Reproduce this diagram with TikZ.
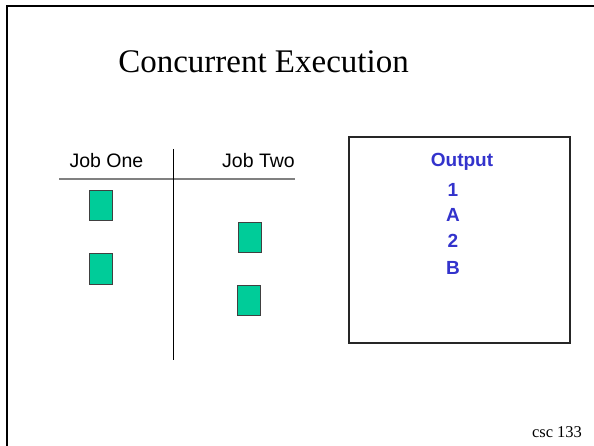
\documentclass[tikz,border=0pt]{standalone}
\usepackage{xcolor}
\usepackage{fontspec}
\setmainfont{Liberation Serif}
\newfontfamily\arialfont{Liberation Sans}
\usepackage{tikz}
\usetikzlibrary{calc}

\definecolor{jobgreen}{HTML}{00CC99}
\definecolor{outblue}{HTML}{3333CC}

\tikzset{
    jobbox/.style={draw=black!75, fill=jobgreen, line width=1pt,
        minimum width=23pt, minimum height=30pt, inner sep=0pt},
    joblabel/.style={anchor=base, inner sep=0pt, font=\arialfont\fontsize{19.5}{20}\selectfont},
    outline/.style={anchor=base, inner sep=0pt, text=outblue,
        font=\arialfont\bfseries\fontsize{19}{20}\selectfont}
}

\begin{document}
\begin{tikzpicture}[x=1pt, y=-1pt]
    %\draw[step=50pt,gray,very thin] (0,0) grid (594,446);
    \useasboundingbox (0,0) rectangle (594,446);
    \draw[black, line width=2.5pt] (7,446) -- (7,6) -- (594,6);

    \node[anchor=base, inner sep=0pt, font=\fontsize{33}{36}\selectfont] (title) at (263.5,73) {Concurrent Execution};

    % the two jobs
    \node[joblabel] (jobone) at (106.5,167.5) {Job One};
    \node[joblabel] (jobtwo) at (258.5,167.5) {Job Two};
    \draw[black!50, line width=1.5pt] (59,179) -- (295,179);
    \draw[black, line width=1pt] (173,149) -- (173,360);

    \node[jobbox] (a1) at (100.5,206) {};
    \node[jobbox] (a2) at (100.5,269) {};
    \node[jobbox] (b1) at (249.5,237.5) {};
    \node[jobbox] (b2) at (249,300.5) {};

    % output box
    \draw[black!85, line width=1.3pt] (349,137) rectangle (570,343);
    \node[outline] (output) at (462,167) {Output};
    \node[outline] (out1) at (453,197) {1};
    \node[outline] (out2) at (453,222) {A};
    \node[outline] (out3) at (453,247.5) {2};
    \node[outline] (out4) at (453,274) {B};

    \node[anchor=base, inner sep=0pt, font=\fontsize{16.5}{18}\selectfont] (page) at (557,437) {csc 133};
\end{tikzpicture}
\end{document}
